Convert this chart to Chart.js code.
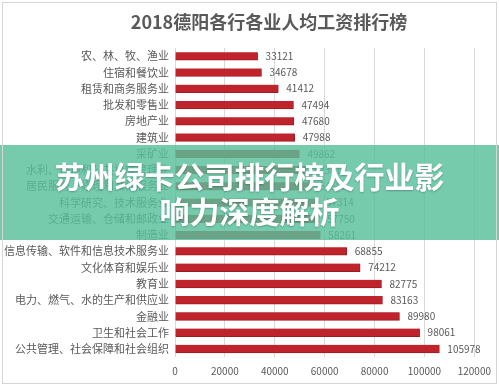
<!DOCTYPE html>
<html>
<head>
<meta charset="utf-8">
<script src="https://cdn.jsdelivr.net/npm/chart.js@4/dist/chart.umd.min.js"></script>
<style>
  html, body { margin: 0; padding: 0; background: #fff; }
  #wrap { position: relative; width: 499px; height: 386px; overflow: hidden; }
  #frame { position: absolute; left: 2px; top: 2px; right: 2px; bottom: 2px; border: 1px solid #d6d6d6; pointer-events: none; }
  #banner {
    position: absolute; left: 0; top: 145px; width: 499px; height: 95px;
    background: rgba(88, 192, 155, 0.82);
    color: #fff; font-family: "Noto Sans CJK SC", sans-serif; font-weight: bold;
    font-size: 30px; line-height: 35px; text-align: center;
    display: flex; flex-direction: column; justify-content: center;
    text-shadow: 0 1px 2px rgba(0,0,0,0.25);
  }
</style>
</head>
<body>
<div id="wrap">
  <canvas id="salaryChart" width="499" height="386"></canvas>
  <div id="banner"><div>苏州绿卡公司排行榜及行业影</div><div>响力深度解析</div></div>
  <div id="frame"></div>
</div>
<script>
// 2018 德阳 各行业人均工资 (元)
const chartTitle = '2018德阳各行各业人均工资排行榜';
const industries = [
    '农、林、牧、渔业',
    '住宿和餐饮业',
    '租赁和商务服务业',
    '批发和零售业',
    '房地产业',
    '建筑业',
    '采矿业',
    '水利、环境和公共设施管理业',
    '居民服务、修理和其他服务业',
    '科学研究、技术服务业',
    '交通运输、仓储和邮政业',
    '制造业',
    '信息传输、软件和信息技术服务业',
    '文化体育和娱乐业',
    '教育业',
    '电力、燃气、水的生产和供应业',
    '金融业',
    '卫生和社会工作',
    '公共管理、社会保障和社会组织'
];
const salaries = [33121, 34678, 41412, 47494, 47680, 47988, 49862, 52381, 54698, 57314, 57750, 58261,
                  68855, 74212, 82775, 83163, 89980, 98061, 105978];
const xTicks = [0, 20000, 40000, 60000, 80000, 100000, 120000];

const FONT = '"Noto Sans CJK SC", "Microsoft YaHei", sans-serif';
const TEXT_GREY = '#595959';

// titre dessiné à la main pour le placer comme dans l'original
const titlePlugin = {
    id: 'customTitle',
    afterDraw(chart) {
        const ctx = chart.ctx;
        ctx.save();
        ctx.font = 'bold 18px ' + FONT;
        ctx.fillStyle = TEXT_GREY;
        ctx.textAlign = 'center';
        ctx.textBaseline = 'middle';
        ctx.fillText(chartTitle, 269, 22);
        ctx.restore();
    }
};

// valeurs au bout des barres
const valueLabels = {
    id: 'valueLabels',
    afterDatasetsDraw(chart) {
        const ctx = chart.ctx;
        const meta = chart.getDatasetMeta(0);
        ctx.save();
        ctx.font = '10px ' + FONT;
        ctx.fillStyle = TEXT_GREY;
        ctx.textAlign = 'left';
        ctx.textBaseline = 'middle';
        meta.data.forEach((bar, i) => {
            ctx.fillText(String(salaries[i]), bar.x + 8, bar.y);
        });
        ctx.restore();
    }
};

const canvas = document.getElementById('salaryChart');
new Chart(canvas, {
    type: 'bar',
    data: {
        labels: industries,
        datasets: [{
            data: salaries,
            backgroundColor: '#bf242d',
            borderColor: '#9c1b22',
            borderWidth: { top: 0, bottom: 1, left: 0, right: 1 },
            borderSkipped: false,
            barThickness: 8
        }]
    },
    options: {
        indexAxis: 'y',
        responsive: false,
        animation: false,
        layout: { padding: { top: 48, right: 22, left: 0, bottom: 0 } },
        plugins: {
            legend: { display: false },
            title: { display: false },
            tooltip: { enabled: false }
        },
        scales: {
            x: {
                min: 0,
                max: 120000,
                afterBuildTicks: (scale) => { scale.ticks = xTicks.map(v => ({ value: v })); },
                afterFit: (scale) => { scale.height = 29; },
                grid: { color: '#d9d9d9', drawTicks: false },
                border: { display: false },
                ticks: {
                    padding: 8,
                    color: TEXT_GREY,
                    font: { family: FONT, size: 10 },
                    callback: (v) => String(v)
                }
            },
            y: {
                afterFit: (scale) => { scale.width = 175; },
                grid: { display: false, drawTicks: false },
                border: { display: false },
                ticks: {
                    padding: 6,
                    color: TEXT_GREY,
                    autoSkip: false,
                    font: { family: FONT, size: 11 }
                }
            }
        }
    },
    plugins: [titlePlugin, valueLabels]
});
</script>
</body>
</html>
